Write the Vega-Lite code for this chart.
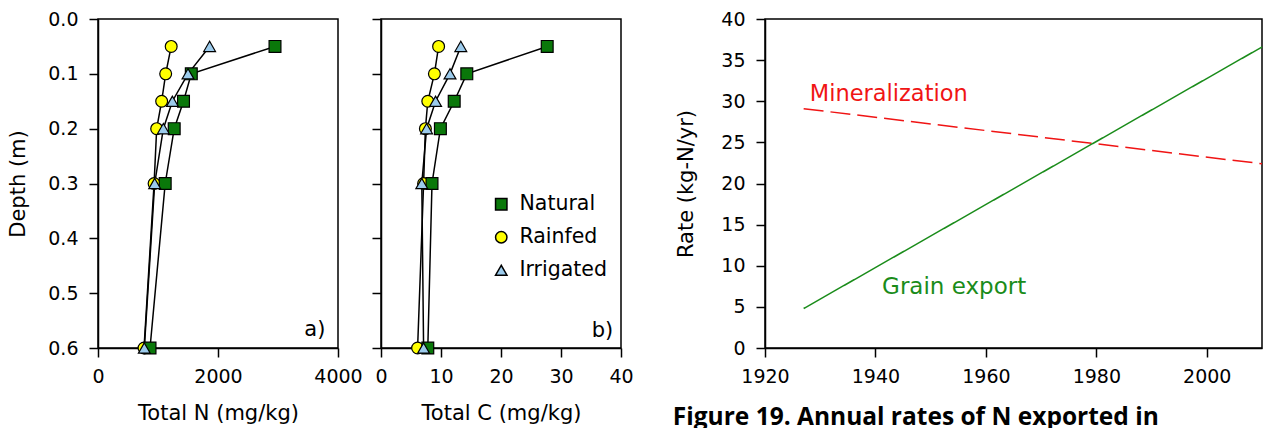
{
  "$schema": "https://vega.github.io/schema/vega-lite/v6.json",
  "padding": {"left": 7, "top": 9, "right": 0, "bottom": 0},
  "background": "white",
  "config": {
    "font": "DejaVu Sans",
    "view": {"stroke": "black", "strokeWidth": 1.5},
    "axis": {
      "grid": false,
      "domainColor": "black",
      "domainWidth": 1.5,
      "tickColor": "black",
      "tickWidth": 1.5,
      "tickSize": 9,
      "labelFont": "DejaVu Sans",
      "labelFontSize": 19,
      "labelColor": "black",
      "labelFlush": false,
      "labelOverlap": false,
      "labelBound": false,
      "titleFont": "DejaVu Sans",
      "titleFontSize": 21,
      "titleFontWeight": "normal",
      "titleColor": "black"
    },
    "axisX": {"labelPadding": 10, "titlePadding": 16},
    "axisY": {"labelPadding": 11, "titlePadding": 19},
    "legend": {
      "title": null,
      "orient": "none",
      "labelFontSize": 20.5,
      "labelFont": "DejaVu Sans",
      "labelColor": "black",
      "symbolSize": 130,
      "rowPadding": 12,
      "labelOffset": 8
    }
  },
  "resolve": {
    "scale": {"fill": "independent", "shape": "independent"},
    "legend": {"fill": "independent", "shape": "independent"}
  },
  "datasets": {
    "profiles": [
      {"treatment": "Natural", "depth": 0.05, "N": 2950, "C": 27.7},
      {"treatment": "Natural", "depth": 0.1, "N": 1555, "C": 14.3},
      {"treatment": "Natural", "depth": 0.15, "N": 1425, "C": 12.2},
      {"treatment": "Natural", "depth": 0.2, "N": 1270, "C": 9.9},
      {"treatment": "Natural", "depth": 0.3, "N": 1120, "C": 8.5},
      {"treatment": "Natural", "depth": 0.6, "N": 867, "C": 7.8},
      {"treatment": "Rainfed", "depth": 0.05, "N": 1220, "C": 9.6},
      {"treatment": "Rainfed", "depth": 0.1, "N": 1128, "C": 8.9},
      {"treatment": "Rainfed", "depth": 0.15, "N": 1061, "C": 7.8},
      {"treatment": "Rainfed", "depth": 0.2, "N": 978, "C": 7.4},
      {"treatment": "Rainfed", "depth": 0.3, "N": 935, "C": 7.1},
      {"treatment": "Rainfed", "depth": 0.6, "N": 767, "C": 6.1},
      {"treatment": "Irrigated", "depth": 0.05, "N": 1860, "C": 13.3},
      {"treatment": "Irrigated", "depth": 0.1, "N": 1500, "C": 11.5},
      {"treatment": "Irrigated", "depth": 0.15, "N": 1240, "C": 9.1},
      {"treatment": "Irrigated", "depth": 0.2, "N": 1089, "C": 7.6},
      {"treatment": "Irrigated", "depth": 0.3, "N": 945, "C": 6.8},
      {"treatment": "Irrigated", "depth": 0.6, "N": 772, "C": 7.1}
    ],
    "rates": [
      {"series": "Mineralization", "year": 1927, "rate": 29.1},
      {"series": "Mineralization", "year": 2010, "rate": 22.4},
      {"series": "Grain export", "year": 1927, "rate": 4.8},
      {"series": "Grain export", "year": 2010, "rate": 36.6}
    ]
  },
  "bounds": "flush",
  "spacing": 43,
  "hconcat": [
    {
      "width": 240,
      "height": 329,
      "data": {"name": "profiles"},
      "layer": [
        {
          "mark": {"type": "line", "color": "black", "strokeWidth": 1.5},
          "encoding": {
            "x": {"field": "N", "type": "quantitative"},
            "y": {"field": "depth", "type": "quantitative"},
            "detail": {"field": "treatment"},
            "order": {"field": "depth"}
          }
        },
        {
          "mark": {"type": "point", "filled": true, "stroke": "black", "strokeWidth": 1.2, "opacity": 1, "size": 140},
          "encoding": {
            "x": {"field": "N", "type": "quantitative", "scale": {"domain": [0, 4000], "nice": false}, "axis": {"values": [0, 2000, 4000], "format": "d", "title": "Total N (mg/kg)"}},
            "y": {"field": "depth", "type": "quantitative", "scale": {"domain": [0, 0.6], "reverse": true, "nice": false}, "axis": {"values": [0, 0.1, 0.2, 0.3, 0.4, 0.5, 0.6], "format": ".1f", "title": "Depth (m)"}},
            "fill": {"field": "treatment", "type": "nominal", "scale": {"domain": ["Natural", "Rainfed", "Irrigated"], "range": ["#0a780a", "#ffff00", "#9ccbec"]}, "legend": null},
            "shape": {"field": "treatment", "type": "nominal", "scale": {"domain": ["Natural", "Rainfed", "Irrigated"], "range": ["square", "circle", "triangle-up"]}, "legend": null},
            "order": {"field": "treatment", "sort": "descending"}
          }
        },
        {
          "data": {"values": [{}]},
          "mark": {"type": "text", "align": "right", "baseline": "alphabetic", "fontSize": 21, "color": "black"},
          "encoding": {
            "x": {"datum": 3790, "type": "quantitative"},
            "y": {"datum": 0.578, "type": "quantitative"},
            "text": {"value": "a)"}
          }
        }
      ]
    },
    {
      "width": 240,
      "height": 329,
      "data": {"name": "profiles"},
      "layer": [
        {
          "mark": {"type": "line", "color": "black", "strokeWidth": 1.5},
          "encoding": {
            "x": {"field": "C", "type": "quantitative"},
            "y": {"field": "depth", "type": "quantitative"},
            "detail": {"field": "treatment"},
            "order": {"field": "depth"}
          }
        },
        {
          "mark": {"type": "point", "filled": true, "stroke": "black", "strokeWidth": 1.2, "opacity": 1, "size": 140},
          "encoding": {
            "x": {"field": "C", "type": "quantitative", "scale": {"domain": [0, 40], "nice": false}, "axis": {"values": [0, 10, 20, 30, 40], "title": "Total C (mg/kg)"}},
            "y": {"field": "depth", "type": "quantitative", "scale": {"domain": [0, 0.6], "reverse": true, "nice": false}, "axis": {"values": [0, 0.1, 0.2, 0.3, 0.4, 0.5, 0.6], "labels": false, "title": null}},
            "fill": {"field": "treatment", "type": "nominal", "scale": {"domain": ["Natural", "Rainfed", "Irrigated"], "range": ["#0a780a", "#ffff00", "#9ccbec"]},
              "legend": {"legendX": 110, "legendY": 175, "encode": {"symbols": {"update": {"stroke": {"value": "black"}, "strokeWidth": {"value": 1.2}}}}}},
            "shape": {"field": "treatment", "type": "nominal", "scale": {"domain": ["Natural", "Rainfed", "Irrigated"], "range": ["square", "circle", "triangle-up"]},
              "legend": {"legendX": 110, "legendY": 175, "encode": {"symbols": {"update": {"stroke": {"value": "black"}, "strokeWidth": {"value": 1.2}}}}}},
            "order": {"field": "treatment", "sort": "descending"}
          }
        },
        {
          "data": {"values": [{}]},
          "mark": {"type": "text", "align": "right", "baseline": "alphabetic", "fontSize": 21, "color": "black"},
          "encoding": {
            "x": {"datum": 38.7, "type": "quantitative"},
            "y": {"datum": 0.58, "type": "quantitative"},
            "text": {"value": "b)"}
          }
        }
      ]
    },
    {
      "width": 58,
      "height": 329,
      "view": {"stroke": null},
      "data": {"values": [{}]},
      "mark": {"type": "text"},
      "encoding": {"text": {"value": ""}}
    },
    {
      "width": 497,
      "height": 329,
      "data": {"name": "rates"},
      "title": {"text": "Figure 19. Annual rates of N exported in", "orient": "bottom", "anchor": "start", "font": "Open Sans", "fontSize": 24.5, "fontWeight": "bold", "color": "black", "dx": -3, "offset": 20},
      "layer": [
        {
          "mark": {"type": "line", "strokeWidth": 1.5},
          "encoding": {
            "x": {"field": "year", "type": "quantitative", "scale": {"domain": [1920, 2010], "nice": false}, "axis": {"values": [1920, 1940, 1960, 1980, 2000], "format": "d", "title": null}},
            "y": {"field": "rate", "type": "quantitative", "scale": {"domain": [0, 40], "nice": false}, "axis": {"values": [0, 5, 10, 15, 20, 25, 30, 35, 40], "title": "Rate (kg-N/yr)", "titlePadding": 24}},
            "color": {"field": "series", "type": "nominal", "scale": {"domain": ["Mineralization", "Grain export"], "range": ["#f01414", "#1a8c1a"]}, "legend": null},
            "strokeDash": {"field": "series", "type": "nominal", "scale": {"domain": ["Mineralization", "Grain export"], "range": [[20, 7], [1, 0]]}, "legend": null}
          }
        },
        {
          "data": {"values": [{}]},
          "mark": {"type": "text", "align": "left", "baseline": "alphabetic", "fontSize": 22.5, "color": "#f01414"},
          "encoding": {
            "x": {"datum": 1928.1, "type": "quantitative"},
            "y": {"datum": 30.0, "type": "quantitative"},
            "text": {"value": "Mineralization"}
          }
        },
        {
          "data": {"values": [{}]},
          "mark": {"type": "text", "align": "left", "baseline": "alphabetic", "fontSize": 23, "color": "#1a8c1a"},
          "encoding": {
            "x": {"datum": 1941.2, "type": "quantitative"},
            "y": {"datum": 6.6, "type": "quantitative"},
            "text": {"value": "Grain export"}
          }
        }
      ]
    }
  ]
}
